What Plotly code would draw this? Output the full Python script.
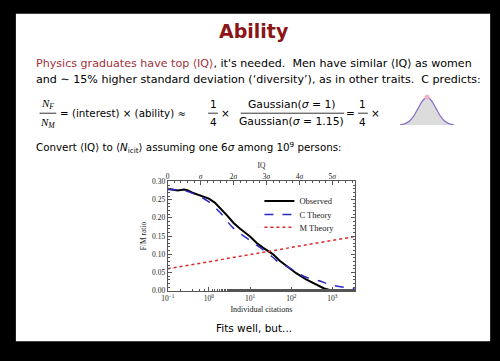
import plotly.graph_objects as go

# ---------------- data ----------------
obs_cit = [0.1, 0.174, 0.251, 0.30, 0.398, 0.631, 1.0, 1.39, 2.0, 2.75, 3.98, 5.75, 10, 14.5,
           20.9, 36.3, 52.5, 87, 132, 229, 398, 631, 1000, 3550]
obs_ratio = [0.28, 0.275, 0.278, 0.276, 0.269, 0.26, 0.253, 0.242, 0.224, 0.207, 0.186, 0.17,
             0.149, 0.131, 0.1175, 0.0997, 0.082, 0.064, 0.048, 0.031, 0.017, 0.006, 0.0, 0.0]

c_cit = [0.1, 0.251, 0.437, 1.0, 2.0, 3.98, 10, 22.9, 36.3, 52.5, 87, 158, 229, 479, 1000, 3470]
c_ratio = [0.278, 0.275, 0.266, 0.244, 0.211, 0.171, 0.138, 0.109, 0.091, 0.076, 0.064, 0.046,
           0.037, 0.027, 0.015, 0.006]

m_cit = [0.1, 3550]
m_ratio = [0.06, 0.149]

x_tickvals = [0.1, 1, 10, 100, 1000]
x_ticktext = ["10<sup>−1</sup>", "10<sup>0</sup>", "10<sup>1</sup>", "10<sup>2</sup>", "10<sup>3</sup>"]
y_tickvals = [0, 0.05, 0.10, 0.15, 0.20, 0.25, 0.30]
y_ticktext = ["0.00", "0.05", "0.10", "0.15", "0.20", "0.25", "0.30"]
iq_tickvals = [0, 1, 2, 3, 4, 5]
iq_ticktext = ["0", "<i>σ</i>", "2<i>σ</i>", "3<i>σ</i>", "4<i>σ</i>", "5<i>σ</i>"]

# small bell-curve icon
bell_x = [-3, -2.5, -2, -1.5, -1, -0.5, 0, 0.5, 1, 1.5, 2, 2.5, 3]
bell_y = [0.01, 0.04, 0.13, 0.32, 0.6, 0.88, 1.0, 0.88, 0.6, 0.32, 0.13, 0.04, 0.01]

W, H = 500, 361
def px(x): return x / W
def py(y): return 1 - y / H

SERIF = "Liberation Serif"
SANS = "DejaVu Sans"
DARKRED = "#8c1515"

fig = go.Figure()
fig.add_trace(go.Scatter(x=obs_cit, y=obs_ratio, mode="lines", name="Observed", legend="legend",
                         line=dict(color="black", width=2)))
fig.add_trace(go.Scatter(x=c_cit, y=c_ratio, mode="lines", name="C Theory", line_shape="spline",
                         legend="legend2",
                         line=dict(color="#2a2ac8", width=1.5, dash="dash")))
fig.add_trace(go.Scatter(x=m_cit, y=m_ratio, mode="lines", name="M Theory", legend="legend3",
                         line=dict(color="#e02828", width=1.5, dash="dot")))
# dummy trace to activate top IQ axis
fig.add_trace(go.Scatter(x=[0], y=[0], xaxis="x2", yaxis="y", mode="markers",
                         marker=dict(opacity=0), showlegend=False, hoverinfo="skip"))
# bell icon
fig.add_trace(go.Scatter(x=bell_x, y=bell_y, xaxis="x3", yaxis="y3", mode="lines",
                         line=dict(color="#8a6cc8", width=1.2, shape="spline"),
                         fill="tozeroy", fillcolor="#dcdcdc", showlegend=False))
fig.add_trace(go.Scatter(x=[0], y=[1.02], xaxis="x3", yaxis="y3", mode="markers",
                         marker=dict(color="#f4b0c0", size=5), showlegend=False))

axfont = dict(family=SERIF, size=7.5, color="#222")
linecol = "#555"
legfont = dict(family=SERIF, size=8.5, color="#222")

def leg(ycenter):
    return dict(x=px(256), y=py(ycenter), xanchor="left", yanchor="middle",
                font=legfont, bgcolor="rgba(0,0,0,0)", itemwidth=30)

fig.update_layout(
    width=W, height=H, margin=dict(l=0, r=0, t=0, b=0),
    paper_bgcolor="black", plot_bgcolor="white",
    showlegend=True,
    legend=leg(202), legend2=leg(216), legend3=leg(229),
    xaxis=dict(type="log", range=[-1, 3.55], domain=[px(163), px(353)], anchor="y",
               tickvals=x_tickvals, ticktext=x_ticktext, ticks="inside", ticklen=4,
               tickcolor=linecol, showline=True, linecolor=linecol, linewidth=1, mirror=True,
               showgrid=False, zeroline=False, tickfont=axfont,
               minor=dict(ticks="inside", ticklen=2, tickcolor=linecol, showgrid=False),
               title=dict(text="Individual citations", font=dict(family=SERIF, size=8, color="#222"),
                          standoff=4)),
    yaxis=dict(range=[0, 0.30], domain=[py(294), py(182)], anchor="x",
               tickvals=y_tickvals, ticktext=y_ticktext, ticks="inside", ticklen=4,
               tickcolor=linecol, showline=True, linecolor=linecol, linewidth=1, mirror="ticks",
               showgrid=False, zeroline=False, tickfont=axfont,
               minor=dict(dtick=0.01, ticks="inside", ticklen=2, tickcolor=linecol, showgrid=False),
               title=dict(text="F/M ratio", font=dict(family=SERIF, size=7.5, color="#222"), standoff=4)),
    xaxis2=dict(range=[0, 5.69], overlaying="x", side="top", anchor="y",
                tickvals=iq_tickvals, ticktext=iq_ticktext, ticks="inside", ticklen=4,
                tickcolor=linecol, showline=False, showgrid=False, zeroline=False, tickfont=axfont,
                minor=dict(dtick=0.2, ticks="inside", ticklen=2, tickcolor=linecol, showgrid=False),
                title=dict(text="IQ", font=dict(family=SERIF, size=7.5, color="#222"), standoff=2)),
    xaxis3=dict(domain=[px(397), px(455)], range=[-3.2, 3.2], anchor="y3", visible=False),
    yaxis3=dict(domain=[py(124), py(93)], range=[0, 1.1], anchor="x3", visible=False),
)

shapes = [dict(type="rect", xref="paper", yref="paper", x0=px(9), x1=px(490), y0=py(346), y1=py(10),
               fillcolor="white", line=dict(width=0), layer="below")]
for (x0, x1, yy) in [(33, 50, 112), (204, 214, 112), (237, 342, 112), (356, 366, 112)]:
    shapes.append(dict(type="line", xref="paper", yref="paper", x0=px(x0), x1=px(x1),
                       y0=py(yy), y1=py(yy), line=dict(color="black", width=0.8)))
fig.update_layout(shapes=shapes)

def ann(text, x, y, size=10.5, family=SANS, color="black", xanchor="left"):
    fig.add_annotation(text=text, x=px(x), y=py(y), xref="paper", yref="paper",
                       xanchor=xanchor, yanchor="middle", showarrow=False,
                       font=dict(family=family, size=size, color=color))

ann("<b>Ability</b>", 250, 28, size=19, color=DARKRED, xanchor="center")
ann('<span style="color:#a0303a">Physics graduates have top ⟨IQ⟩</span>, it\'s needed.  Men have similar ⟨IQ⟩ as women',
    27, 61, size=11.1)
ann("and ∼ 15% higher standard deviation (‘diversity’), as in other traits.  C predicts:", 27, 77, size=11.1)
ann("<i>N<sub>F</sub></i>", 41, 103, size=11, family=SERIF, xanchor="center")
ann("<i>N<sub>M</sub></i>", 41, 122, size=11, family=SERIF, xanchor="center")
ann("= (interest) × (ability) ≈", 52, 112, size=10.3)
ann("1", 209, 103, xanchor="center")
ann("4", 209, 121, xanchor="center")
ann("×", 222, 112, xanchor="center")
ann("Gaussian(<i>σ</i> = 1)", 289, 103, size=10.8, xanchor="center")
ann("Gaussian(<i>σ</i> = 1.15)", 289, 121, size=10.8, xanchor="center")
ann("=", 348, 112, xanchor="center")
ann("1", 361, 103, xanchor="center")
ann("4", 361, 121, xanchor="center")
ann("×", 374, 112, xanchor="center")
ann("Convert ⟨IQ⟩ to ⟨<i>N</i><sub>icit</sub>⟩ assuming one 6<i>σ</i> among 10<sup>9</sup> persons:",
    27, 147, size=10.3)
ann("Fits well, but...", 250, 332, xanchor="center")

fig.write_html("out.html", config={"displayModeBar": False},
               post_script="document.body.style.margin='0';document.body.style.overflow='hidden';")
